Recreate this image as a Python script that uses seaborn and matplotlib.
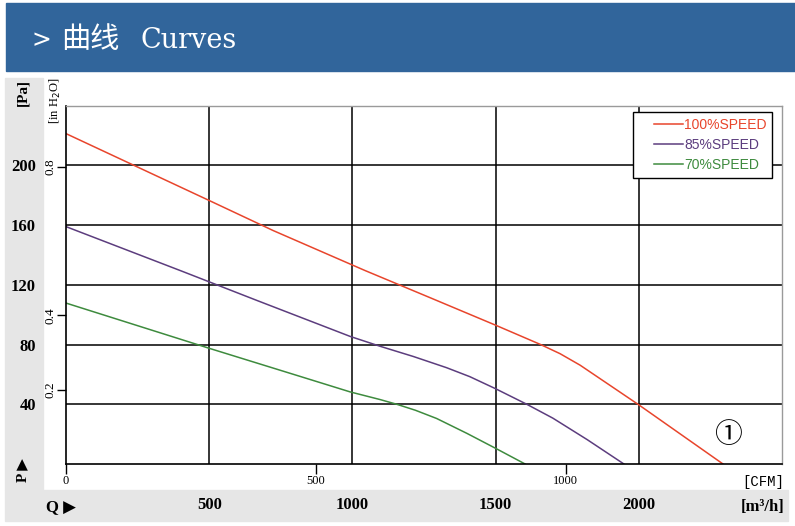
import matplotlib
matplotlib.use("Agg")
import matplotlib.pyplot as plt
import numpy as np
import pandas as pd
import seaborn as sns
from matplotlib.lines import Line2D
from matplotlib.legend_handler import HandlerLine2D
from matplotlib.patches import Rectangle

# fan curves: Q in m3/h, P in Pa
SPEEDS = ["100%SPEED", "85%SPEED", "70%SPEED"]
COLORS = ["#e8452c", "#5c3d7e", "#3e8b3e"]

Q_100 = [0, 500, 723, 1044, 1270, 1501, 1655, 1725, 1795, 1900, 2001, 2294]
P_100 = [221.3, 176.5, 156.4, 129.6, 111.5, 92.9, 80.2, 73.9, 66.2, 52.6, 39.5, 0]

Q_85 = [0, 404, 666, 993, 1096, 1213, 1329, 1410, 1498, 1608, 1700, 1820, 1948]
P_85 = [159.0, 129.2, 109.6, 85.4, 78.9, 72.0, 64.5, 58.5, 50.6, 40.1, 30.7, 16.3, 0]

Q_70 = [0, 500, 817, 992, 1096, 1155, 1220, 1294, 1400, 1500, 1603]
P_70 = [107.8, 77.5, 58.7, 48.3, 43.2, 40.0, 36.0, 30.5, 20.5, 10.5, 0]

PA_TICKS = [40, 80, 120, 160, 200]
INH2O_TICKS = [0.2, 0.4, 0.8]
M3H_TICKS = [500, 1000, 1500, 2000]
CFM_TICKS = [0, 500, 1000]
PA_PER_INH2O = 249
M3H_PER_CFM = 1.745  # spacing as drawn on the original sheet

W, H = 795, 526


def fx(px):
    return px / W


def fy(py):
    return 1 - py / H


class ShortLineHandler(HandlerLine2D):
    """Legend line that only covers the right part of the handle box."""

    def create_artists(self, legend, orig_handle, xdescent, ydescent,
                       width, height, fontsize, trans):
        artists = super().create_artists(legend, orig_handle, xdescent, ydescent,
                                         width, height, fontsize, trans)
        old = artists[0].get_xdata()
        artists[0].set_xdata(np.linspace(-xdescent + 0.34 * width,
                                         -xdescent + width, len(old)))
        return artists


plt.rcParams["font.family"] = ["Liberation Serif", "DejaVu Sans", "Noto Sans CJK SC"]

df = pd.concat([
    pd.DataFrame({"Q": Q_100, "P": P_100, "speed": SPEEDS[0]}),
    pd.DataFrame({"Q": Q_85, "P": P_85, "speed": SPEEDS[1]}),
    pd.DataFrame({"Q": Q_70, "P": P_70, "speed": SPEEDS[2]}),
])

fig = plt.figure(figsize=(W / 100, H / 100), dpi=100)

# header banner and grey label bands
fig.add_artist(Rectangle((fx(6), fy(71)), 1, fy(3) - fy(71),
                         transform=fig.transFigure, color="#31659b", zorder=0))
fig.add_artist(Rectangle((fx(5), fy(490)), fx(38), fy(78) - fy(490),
                         transform=fig.transFigure, color="#e6e6e6", zorder=0))
fig.add_artist(Rectangle((fx(5), fy(521)), fx(783), fy(490) - fy(521),
                         transform=fig.transFigure, color="#e6e6e6", zorder=0))

fig.text(fx(31), fy(40), ">", color="white", fontsize=17, va="center",
         family="DejaVu Sans")
fig.text(fx(61), fy(40), "曲线", color="white", fontsize=21, va="center",
         family="Noto Sans CJK SC")
fig.text(fx(141), fy(40), "Curves", color="white", fontsize=19.5, va="center",
         family="DejaVu Serif")

ax = fig.add_axes([fx(66), fy(464), fx(716), fy(105.7) - fy(464)])

sns.lineplot(data=df, x="Q", y="P", hue="speed", hue_order=SPEEDS,
             palette=COLORS, linewidth=1.1, sort=False, ax=ax)

ax.set_xlim(0, 2500)
ax.set_ylim(0, 240)
ax.set_xlabel("")
ax.set_ylabel("")

# Pa / m3/h on the major ticks, inH2O / CFM on the minor ones
ax.set_yticks(PA_TICKS, [str(v) for v in PA_TICKS])
ax.set_yticks([v * PA_PER_INH2O for v in INH2O_TICKS],
              [str(v) for v in INH2O_TICKS], minor=True)
ax.set_xticks(M3H_TICKS, [str(v) for v in M3H_TICKS])
ax.set_xticks([v * M3H_PER_CFM for v in CFM_TICKS],
              [str(v) for v in CFM_TICKS], minor=True)

ax.tick_params(axis="y", which="major", length=0, pad=21.6, labelsize=12)
ax.tick_params(axis="x", which="major", length=0, pad=24, labelsize=12)
ax.tick_params(axis="y", which="minor", length=6.5, width=1, pad=0.5,
               labelsize=9.5, color="black")
ax.tick_params(axis="x", which="minor", length=7.2, width=1, pad=1,
               labelsize=9, color="black")
plt.setp(ax.get_yticklabels(minor=True), rotation=90, va="center")
plt.setp(ax.get_yticklabels() + ax.get_xticklabels(), fontweight="bold")

ax.grid(which="major", color="black", linewidth=1.1)
ax.set_axisbelow(True)
for side in ["left", "bottom"]:
    ax.spines[side].set_color("black")
    ax.spines[side].set_linewidth(1.2)
for side in ["top", "right"]:
    ax.spines[side].set_color("#9a9a9a")
    ax.spines[side].set_linewidth(1.0)

handles, labels = ax.get_legend_handles_labels()
leg = ax.legend(handles, labels, handler_map={Line2D: ShortLineHandler()},
                loc="upper right", bbox_to_anchor=(0.986, 0.982), borderaxespad=0,
                fancybox=False, edgecolor="black", framealpha=1,
                borderpad=0.4, labelspacing=0.45, handlelength=3.2,
                handletextpad=0.05, labelcolor="linecolor",
                prop={"family": "Liberation Sans", "size": 10})
leg.get_frame().set_linewidth(1.0)

ax.text(0.924, 0.08, "①", transform=ax.transAxes, fontsize=20,
        ha="center", va="center", family="Noto Sans CJK SC")

# axis captions
fig.text(fx(23), fy(93), "[Pa]", rotation=90, fontsize=11, fontweight="bold",
         ha="center", va="center")
fig.text(fx(23), fy(470), "P ▶", rotation=90, fontsize=11, fontweight="bold",
         ha="center", va="center", family=["Liberation Serif", "DejaVu Sans"])
fig.text(fx(55), fy(101), "[in H$_2$O]", rotation=90, fontsize=9,
         ha="center", va="center")
fig.text(fx(46), fy(507), "Q ▶", fontsize=12, fontweight="bold",
         ha="left", va="center", family=["Liberation Serif", "DejaVu Sans"])
fig.text(fx(785), fy(507), "[m³/h]", fontsize=12, fontweight="bold",
         ha="right", va="center")
fig.text(fx(784), fy(482), "[CFM]", fontsize=10, ha="right", va="center",
         family="Liberation Mono")

fig.savefig("out.png", dpi=100)
